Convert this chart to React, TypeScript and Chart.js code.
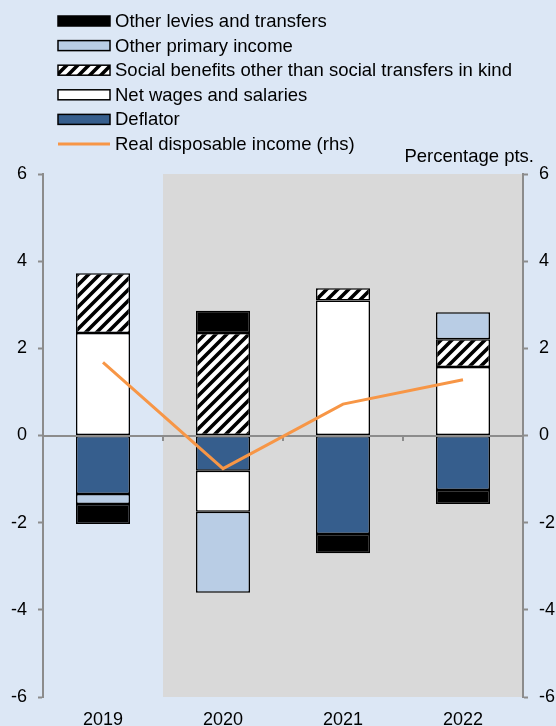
import React, { useEffect, useRef } from 'react';
import { Chart, registerables } from 'chart.js';

Chart.register(...registerables);

const categories = ['2019', '2020', '2021', '2022'];
const deflator = [-1.34, -0.81, -2.26, -1.25];
const netWages = [2.35, -0.94, 3.1, 1.57];
const socialBenefits = [1.37, 2.35, 0.28, 0.64];
const otherPrimaryIncome = [-0.23, -1.86, null, 0.62];
const otherLevies = [-0.46, 0.51, -0.44, -0.32];
const realDisposableIncome = [1.68, -0.76, 0.72, 1.28];
const yMin = -6;
const yMax = 6;
const yStep = 2;
const unitLabel = 'Percentage pts.';

const BG = '#DCE7F5';
const SHADE = '#D9D9D9';
const AXIS = '#8C8C8C';
const FONT = '"Liberation Sans", Arial, sans-serif';

function makeHatch(): CanvasPattern | string {
  const s = 11;
  const c = document.createElement('canvas');
  c.width = s;
  c.height = s;
  const g = c.getContext('2d');
  if (!g) return '#888';
  g.fillStyle = '#ffffff';
  g.fillRect(0, 0, s, s);
  g.strokeStyle = '#000000';
  g.lineWidth = 3.6;
  g.beginPath();
  g.moveTo(-2, s + 2);
  g.lineTo(s + 2, -2);
  g.moveTo(-2, 2);
  g.lineTo(2, -2);
  g.moveTo(s - 2, s + 2);
  g.lineTo(s + 2, s - 2);
  g.stroke();
  const p = g.createPattern(c, 'repeat');
  return p || '#888';
}

export default function App() {
  const ref = useRef<HTMLCanvasElement | null>(null);

  useEffect(() => {
    document.body.style.margin = '0';
    document.body.style.background = BG;
    const canvas = ref.current;
    if (!canvas) return;
    const hatch = makeHatch();

    const shadePlugin = {
      id: 'shade',
      beforeDraw(chart: any) {
        const { ctx, chartArea, scales } = chart;
        ctx.save();
        ctx.fillStyle = BG;
        ctx.fillRect(0, 0, chart.width, chart.height);
        const x0 = scales.x.getPixelForValue(0.5);
        ctx.fillStyle = SHADE;
        ctx.fillRect(x0, chartArea.top, chartArea.right - x0, chartArea.bottom - chartArea.top);
        ctx.restore();
      },
      beforeDatasetDraw(chart: any, args: any) {
        if (args.index !== 0) return;
        const { ctx, chartArea, scales } = chart;
        const y0 = Math.round(scales.y.getPixelForValue(0));
        ctx.save();
        ctx.strokeStyle = AXIS;
        ctx.lineWidth = 2;
        ctx.beginPath();
        ctx.moveTo(chartArea.left, y0);
        ctx.lineTo(chartArea.right, y0);
        for (let i = 0; i < categories.length - 1; i++) {
          const xb = Math.round(scales.x.getPixelForValue(i + 0.5));
          ctx.moveTo(xb, y0);
          ctx.lineTo(xb, y0 + 5);
        }
        ctx.stroke();
        ctx.restore();
      },
      afterDraw(chart: any) {
        const { ctx } = chart;
        const ds = chart.data.datasets;
        const bars = ds.filter((d: any) => d.type === 'bar').slice().reverse();
        const lines = ds.filter((d: any) => d.type === 'line');
        const items = [...bars, ...lines];
        ctx.save();
        ctx.font = `18.5px ${FONT}`;
        ctx.textBaseline = 'middle';
        ctx.textAlign = 'left';
        const bx = 58;
        const bw = 52;
        const bh = 10;
        items.forEach((d: any, i: number) => {
          const cy = 21 + i * 24.6;
          if (d.type === 'line') {
            ctx.strokeStyle = d.borderColor;
            ctx.lineWidth = 3;
            ctx.beginPath();
            ctx.moveTo(bx, cy);
            ctx.lineTo(bx + bw, cy);
            ctx.stroke();
          } else {
            ctx.fillStyle = d.backgroundColor;
            ctx.fillRect(bx, cy - bh / 2, bw, bh);
            ctx.strokeStyle = '#000';
            ctx.lineWidth = 1.5;
            ctx.strokeRect(bx, cy - bh / 2, bw, bh);
          }
          ctx.fillStyle = '#000';
          ctx.fillText(d.label, 115, cy + 1);
        });
        ctx.textAlign = 'right';
        ctx.fillText(unitLabel, 534, 157);
        ctx.restore();
      },
    };

    const barCommon = {
      type: 'bar' as const,
      yAxisID: 'y',
      borderColor: '#000000',
      borderWidth: 1.5,
      borderSkipped: false,
      barPercentage: 0.5,
      categoryPercentage: 0.9,
      order: 1,
    };

    const tickFont = { family: FONT, size: 18 };

    const chart = new Chart(canvas, {
      type: 'bar',
      data: {
        labels: categories,
        datasets: [
          {
            type: 'line',
            label: 'Real disposable income (rhs)',
            data: realDisposableIncome,
            yAxisID: 'y2',
            borderColor: '#F79646',
            backgroundColor: '#F79646',
            borderWidth: 3,
            pointRadius: 0,
            tension: 0,
            order: 0,
          },
          { ...barCommon, label: 'Deflator', data: deflator, backgroundColor: '#365E8D' },
          { ...barCommon, label: 'Net wages and salaries', data: netWages, backgroundColor: '#FFFFFF' },
          {
            ...barCommon,
            label: 'Social benefits other than social transfers in kind',
            data: socialBenefits,
            backgroundColor: hatch,
          },
          { ...barCommon, label: 'Other primary income', data: otherPrimaryIncome, backgroundColor: '#B9CDE5' },
          { ...barCommon, label: 'Other levies and transfers', data: otherLevies, backgroundColor: '#000000' },
        ] as any,
      },
      options: {
        animation: false,
        responsive: false,
        maintainAspectRatio: false,
        layout: { padding: { top: 174, left: 0, right: 0, bottom: 0 } },
        plugins: {
          legend: { display: false },
          tooltip: { enabled: false },
        },
        scales: {
          x: {
            stacked: true,
            grid: { display: false, drawTicks: false },
            border: { display: false },
            ticks: { color: '#000', font: tickFont, padding: 12 },
            afterFit: (s: any) => {
              s.height = 29;
            },
          },
          y: {
            stacked: true,
            position: 'left',
            min: yMin,
            max: yMax,
            ticks: { stepSize: yStep, color: '#000', font: tickFont, padding: 11 },
            grid: { drawOnChartArea: false, drawTicks: true, tickLength: 5, tickColor: AXIS, tickWidth: 2, color: AXIS },
            border: { display: true, color: AXIS, width: 2 },
            afterFit: (s: any) => {
              s.width = 43;
            },
          },
          y2: {
            position: 'right',
            min: yMin,
            max: yMax,
            ticks: { stepSize: yStep, color: '#000', font: tickFont, padding: 11 },
            grid: { drawOnChartArea: false, drawTicks: true, tickLength: 5, tickColor: AXIS, tickWidth: 2, color: AXIS },
            border: { display: true, color: AXIS, width: 2 },
            afterFit: (s: any) => {
              s.width = 33;
            },
          },
        },
      } as any,
      plugins: [shadePlugin],
    });

    return () => {
      chart.destroy();
    };
  }, []);

  return (
    <div style={{ width: 556, height: 726, background: BG }}>
      <canvas ref={ref} width={556} height={726} style={{ display: 'block', width: 556, height: 726 }} />
    </div>
  );
}
